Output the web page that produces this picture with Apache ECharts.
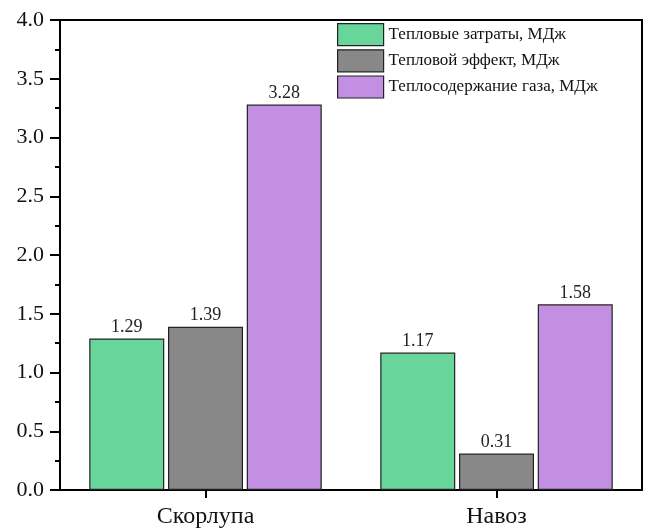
<!DOCTYPE html>
<html>
<head>
<meta charset="utf-8">
<script src="https://cdn.jsdelivr.net/npm/echarts@6/dist/echarts.min.js"></script>
<style>
  html, body { margin: 0; padding: 0; background: #fff; }
  #chart { width: 648px; height: 529px; }
</style>
</head>
<body>
<div id="chart"></div>
<script>
// Categories and series values (MJ)
const categories = ['Скорлупа', 'Навоз'];
const seriesNames = ['Тепловые затраты, МДж', 'Тепловой эффект, МДж', 'Теплосодержание газа, МДж'];
const heatCost = [1.29, 1.17];
const heatEffect = [1.39, 0.31];
const gasHeat = [3.28, 1.58];
const yTicks = [0, 0.5, 1.0, 1.5, 2.0, 2.5, 3.0, 3.5, 4.0];

const colors = ['#68d69a', '#888888', '#c38fe3'];
const FONT = "'Liberation Serif', 'DejaVu Serif', serif";

const chart = echarts.init(document.getElementById('chart'));

function barSeries(name, data, color) {
  return {
    name: name,
    type: 'bar',
    data: data,
    barWidth: 75,
    barGap: '5%',
    itemStyle: { color: color, borderColor: '#222', borderWidth: 1.2 },
    label: {
      show: true,
      position: 'top',
      distance: 2,
      color: '#222',
      fontFamily: FONT,
      fontSize: 18,
      formatter: p => p.value.toFixed(2)
    }
  };
}

chart.setOption({
  animation: false,
  backgroundColor: '#fff',
  grid: {
    left: 60, right: 6, top: 20, bottom: 39,
    show: true, borderColor: '#000', borderWidth: 2, backgroundColor: 'transparent'
  },
  legend: {
    orient: 'vertical',
    left: 332,
    top: 18,
    itemWidth: 46,
    itemHeight: 22,
    itemGap: 3,
    icon: 'rect',
    textStyle: { fontFamily: FONT, fontSize: 17, color: '#111' },
    data: seriesNames,
    itemStyle: { borderColor: '#222', borderWidth: 1.2 }
  },
  xAxis: {
    type: 'category',
    data: categories,
    axisLine: { lineStyle: { color: '#000', width: 2 } },
    axisTick: { show: true, alignWithLabel: true, length: 8, lineStyle: { color: '#000', width: 2 } },
    axisLabel: { fontFamily: FONT, fontSize: 24, color: '#111', margin: 15 },
    splitLine: { show: false }
  },
  yAxis: {
    type: 'value',
    min: yTicks[0],
    max: yTicks[yTicks.length - 1],
    interval: 0.5,
    axisLine: { show: true, lineStyle: { color: '#000', width: 2 } },
    axisTick: { show: true, length: 10, lineStyle: { color: '#000', width: 2 } },
    minorTick: { show: true, splitNumber: 2, length: 5, lineStyle: { color: '#000', width: 2 } },
    axisLabel: { fontFamily: FONT, fontSize: 22, color: '#111', margin: 16, formatter: v => v.toFixed(1) },
    splitLine: { show: false }
  },
  series: [
    barSeries(seriesNames[0], heatCost, colors[0]),
    barSeries(seriesNames[1], heatEffect, colors[1]),
    barSeries(seriesNames[2], gasHeat, colors[2])
  ]
});
</script>
</body>
</html>
